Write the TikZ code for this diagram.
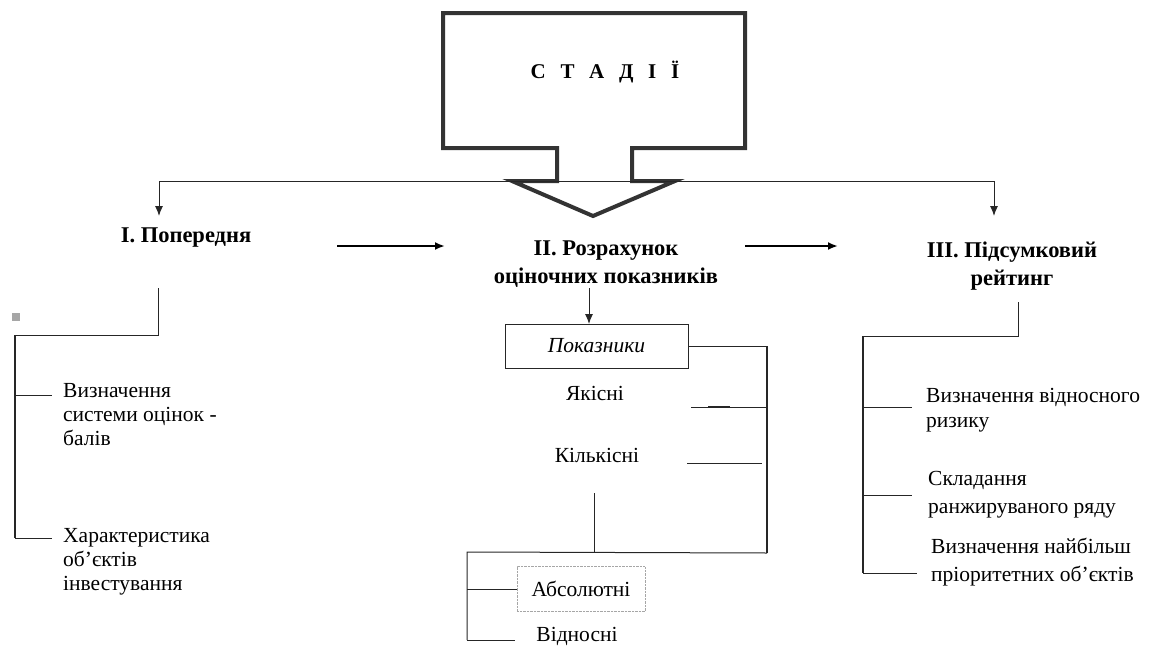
\documentclass[tikz,border=0pt]{standalone}
\usepackage{fontspec}
\setmainfont{Liberation Serif}
\usetikzlibrary{arrows.meta}
\usetikzlibrary{positioning}

\tikzset{
    heading/.style={font=\fontsize{22.5}{28}\selectfont\bfseries, align=center},
    itemtext/.style={anchor=north west, align=left, inner sep=0pt},
    link/.style={black!85, line width=1pt},
}

\begin{document}
\begin{tikzpicture}[x=1pt, y=-1pt, >={Latex[length=10pt,width=8pt]}, auto, font=\fontsize{21.5}{24}\selectfont] % pixel-like units
    \useasboundingbox (0,0) rectangle (1149,648);

    % Callout
    \draw [line width=4pt, draw=black!80, line join=miter] (443,13) -- (745,13) -- (745,148) -- (632,148) -- (632,181) -- (675,181) -- (593,216) -- (512,181) -- (557,181) -- (557,148) -- (443,148) -- cycle;
    \node (stages) at (605,72) {\fontsize{21}{24}\selectfont\bfseries С\hspace{0.7em}Т\hspace{0.7em}А\hspace{0.7em}Д\hspace{0.7em}І\hspace{0.7em}Ї};

    % Stage headings
    \node [heading] (first) at (186,238) {I. Попередня};
    \node [heading] (second) at (606,264) {II. Розрахунок\\оціночних показників};
    \node [heading] (third) at (1012,266) {III. Підсумковий\\рейтинг};

    % Junction points
    \coordinate (leftdrop) at (159,181);
    \coordinate (rightdrop) at (994,181);
    \coordinate (leftend) at (159,216);
    \coordinate (rightend) at (994,216);
    \coordinate (arrowAs) at (337,246);
    \coordinate (arrowAe) at (445,246);
    \coordinate (arrowBs) at (745,246);
    \coordinate (arrowBe) at (838,246);

    % Top connector
    \draw [link] (leftdrop) -- (rightdrop);
    \draw [->, link] (leftdrop) -- (leftend); % to stage I
    \draw [->, link] (rightdrop) -- (rightend); % to stage III
    \draw [->, line width=2.5pt] (arrowAs) -- (arrowAe); % I to II
    \draw [->, line width=2.5pt] (arrowBs) -- (arrowBe); % II to III

    % Stage I branch
    \coordinate (firstdown) at (158,288);
    \coordinate (firstbend) at (158,335);
    \coordinate (firstbar) at (15,335);
    \coordinate (firstbarend) at (15,538);
    \fill [gray!70] (12,313) rectangle (20,321);
    \node [itemtext] (scores) at (63,383) {Визначення\\системи оцінок -\\балів};
    \node [itemtext] (objects) at (63,528) {Характеристика\\об’єктів\\інвестування};
    \draw [link] (firstdown) -- (firstbend) -- (firstbar);
    \draw [line width=2.7pt, black!85] (firstbar) -- (firstbarend);
    \draw [link] (15,395) -- (52,395);
    \draw [link] (firstbarend) -- (52,538);

    % Stage II branch
    \node [draw, black!85, text=black, minimum width=183pt, minimum height=44pt, font=\fontsize{21.5}{24}\selectfont\itshape] (indicators) at (596.5,346) {Показники};
    \draw [->, link] (589,288) -- (589,324);
    \node (quality) at (595,393) {Якісні};
    \node (quantity) at (597,455) {Кількісні};
    \coordinate (midbar) at (767,346);
    \coordinate (midbarend) at (767,553);
    \draw [link] (indicators.east) -- (midbar);
    \draw [line width=2.7pt, black!85] (midbar) -- (midbarend);
    \draw [link] (691,407) -- (766,407);
    \draw [line width=1.6pt, black!85] (708,407) -- (730,407);
    \draw [link] (687,463) -- (762,463);
    \coordinate (quantdown) at (594,493);
    \coordinate (quantbend) at (594,552);
    \coordinate (lowbar) at (467,552);
    \coordinate (lowbarend) at (467,640);
    \draw [link] (quantdown) -- (quantbend);
    \draw [link] (midbarend) -- (lowbar) -- (lowbarend);
    \node [draw=gray!70, densely dotted, text=black, minimum width=128pt, minimum height=45pt] (absolute) at (581,589) {Абсолютні};
    \node (relative) at (577,636) {Відносні};
    \draw [link] (467,589) -- (absolute.west);
    \draw [link] (lowbarend) -- (515,640);

    % Stage III branch
    \coordinate (thirddown) at (1018,302);
    \coordinate (thirdbend) at (1018,336);
    \coordinate (thirdbar) at (863,336);
    \coordinate (thirdbarend) at (863,573);
    \draw [link] (thirddown) -- (thirdbend) -- (thirdbar);
    \draw [line width=1.5pt, black!85] (thirdbar) -- (thirdbarend);
    \node [itemtext, font=\fontsize{21.5}{25}\selectfont] (risk) at (926,388) {Визначення відносного\\ризику};
    \node [itemtext, font=\fontsize{21.5}{28}\selectfont] (ranking) at (928,471) {Складання\\ранжируваного ряду};
    \node [itemtext, font=\fontsize{21.5}{28}\selectfont] (priority) at (931,538) {Визначення найбільш\\пріоритетних об’єктів};
    \draw [link] (863,407) -- (912,407);
    \draw [link] (863,495) -- (912,495);
    \draw [link] (thirdbarend) -- (917,573);

\end{tikzpicture}
\end{document}
